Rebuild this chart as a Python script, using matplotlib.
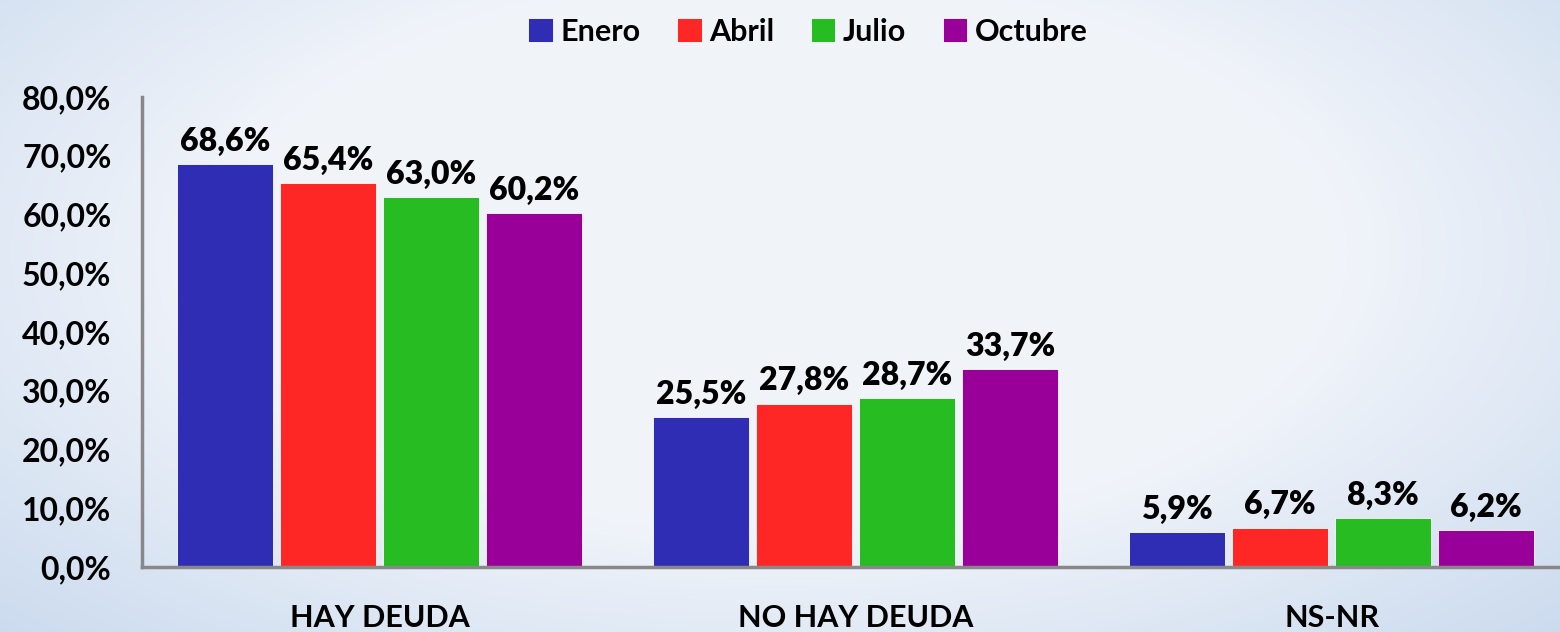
import numpy as np
import matplotlib
matplotlib.use("Agg")
import matplotlib.pyplot as plt
from matplotlib.patches import Patch

# survey answers by month
categories = ["HAY DEUDA", "NO HAY DEUDA", "NS-NR"]
months = ["Enero", "Abril", "Julio", "Octubre"]
enero = [68.6, 25.5, 5.9]
abril = [65.4, 27.8, 6.7]
julio = [63.0, 28.7, 8.3]
octubre = [60.2, 33.7, 6.2]
series = [enero, abril, julio, octubre]
colors = ["#2e2db3", "#ff2626", "#27bc22", "#990099"]
yticks = [0, 10, 20, 30, 40, 50, 60, 70, 80]

plt.rcParams['font.family'] = ['Lato', 'DejaVu Sans']

fig = plt.figure(figsize=(15.6, 6.32), dpi=100)

# soft bluish background, darker towards the corners
bg = fig.add_axes([0, 0, 1, 1], zorder=-10)
yy, xx = np.mgrid[0:1:300j, 0:1:700j]
d = np.sqrt(((xx - 0.5) / 0.5) ** 2 * 0.6 + ((yy - 0.4) / 0.5) ** 2 * 0.4)
t = np.clip((d - 0.55) / 0.6, 0, 1)
c0 = np.array([0.945, 0.957, 0.980])
c1 = np.array([0.780, 0.847, 0.930])
img = c0 + (c1 - c0) * t[..., None]
bg.imshow(img, aspect='auto', extent=[0, 1, 0, 1], origin='upper')
bg.axis('off')

ax = fig.add_axes([0.091, 0.103, 0.909, 0.7435])
ax.patch.set_alpha(0)

x = np.arange(len(categories))
pitch = 0.2164
width = 0.2017
for i, (vals, col) in enumerate(zip(series, colors)):
    pos = x + (i - 1.5) * pitch
    ax.bar(pos, vals, width, color=col, edgecolor='white', linewidth=0.6,
           label=months[i])
    for px, v in zip(pos, vals):
        ax.text(px, v + 1.4, f"{v:.1f}%".replace('.', ','), ha='center',
                va='bottom', fontsize=23, fontweight='heavy', color='black')

ax.set_xlim(-0.5, 2.48)
ax.set_ylim(0, 80)
ax.set_yticks(yticks)
ax.set_yticklabels([f"{v:.1f}%".replace('.', ',') for v in yticks],
                   fontsize=23, fontweight='bold')
ax.set_xticks(x)
ax.set_xticklabels(categories, fontsize=22, fontweight='bold')
ax.tick_params(axis='both', length=0)
ax.tick_params(axis='y', pad=22)
ax.tick_params(axis='x', pad=27)
for s in ['top', 'right']:
    ax.spines[s].set_visible(False)
for s in ['left', 'bottom']:
    ax.spines[s].set_color('#888888')
    ax.spines[s].set_linewidth(2.5)

handles = [Patch(facecolor=c, edgecolor='white', linewidth=0.6) for c in colors]
fig.legend(handles, months, loc='center', bbox_to_anchor=(0.518, 0.95),
           ncol=4, frameon=False, handlelength=0.8,
           handleheight=0.8, handletextpad=0.25, columnspacing=1.2,
           prop={'size': 22, 'weight': 'bold'})

fig.savefig("out.png", dpi=100)
